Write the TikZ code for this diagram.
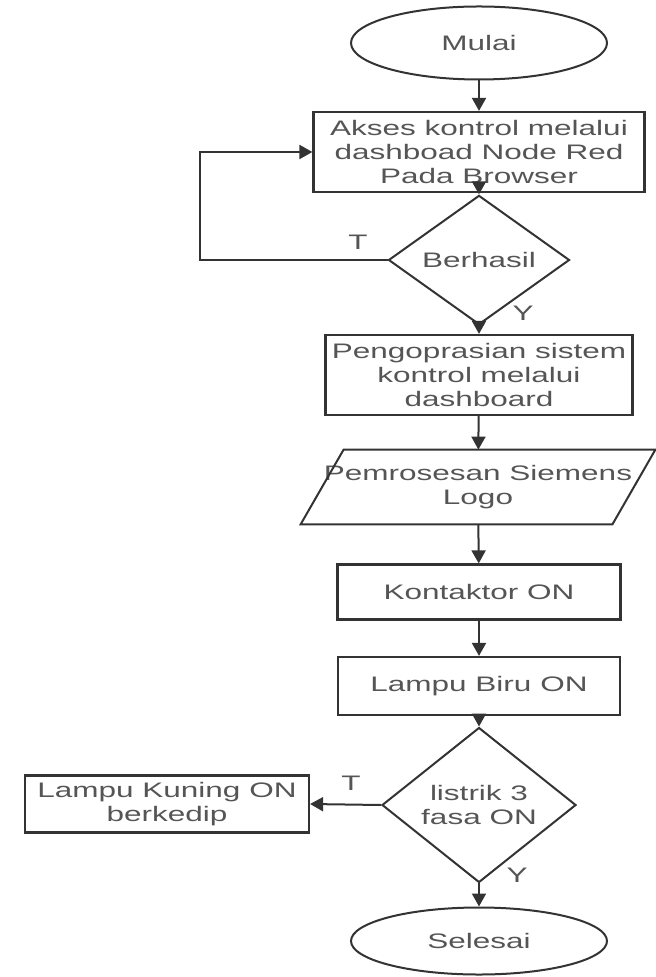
\documentclass[tikz,border=0pt]{standalone}
\usepackage{fontspec}
\setmainfont{Liberation Sans}[FakeStretch=1.5]
\usetikzlibrary{shapes.geometric,arrows.meta}
\definecolor{ink}{HTML}{333333}
\definecolor{txt}{HTML}{555555}
\begin{document}
\begin{tikzpicture}[x=0.5pt,y=-0.5pt,
  every node/.style={font=\fontsize{10.5pt}{12pt}\selectfont, text=txt, align=center},
  term/.style={draw=ink, line width=1pt, ellipse, inner sep=0pt},
  procbox/.style={draw=ink, line width=1.1pt, rectangle, inner sep=0pt},
  decide/.style={draw=ink, line width=1pt, diamond, inner sep=0pt},
  arr/.style={draw=ink, line width=1pt, -{Triangle[length=6.5pt,width=7pt]}},
  lbl/.style={inner sep=0pt}
]
\useasboundingbox (0,0) rectangle (656,977);

\node[term, minimum width=128pt, minimum height=36.5pt] (start) at (479,43) {Mulai};
\node[procbox, minimum width=165.5pt, minimum height=40pt] (akses) at (479,152)
  {Akses kontrol melalui\\dashboad Node Red\\Pada Browser};
\node[decide, minimum width=90.5pt, minimum height=45pt] (berhasil) at (479,260) {Berhasil};
\node[procbox, minimum width=153.5pt, minimum height=40pt] (operasi) at (479,375)
  {Pengoprasian sistem\\kontrol melalui\\dashboard};
\node[minimum width=155.5pt, minimum height=37pt, inner sep=0pt] (proses) at (478,487)
  {Pemrosesan Siemens\\Logo};
\draw[ink, line width=1pt]
  ([xshift=10.75pt]proses.north west) -- ([xshift=10.75pt]proses.north east)
  -- ([xshift=-10.75pt]proses.south east) -- ([xshift=-10.75pt]proses.south west) -- cycle;
\node[procbox, minimum width=141.5pt, minimum height=27.5pt] (kontaktor) at (479,592) {Kontaktor ON};
\node[procbox, minimum width=141pt, minimum height=29pt] (biru) at (479,686) {Lampu Biru ON};
\node[decide, minimum width=97pt, minimum height=56.5pt] (listrik) at (479,805) {listrik 3\\fasa ON};
\node[procbox, minimum width=142pt, minimum height=28.5pt] (kuning) at (167,804)
  {Lampu Kuning ON\\berkedip};
\node[term, minimum width=128pt, minimum height=33.5pt] (selesai) at (479,941) {Selesai};

\coordinate (loop) at (200,260);

\draw[arr] (start) -- (akses);
\draw[arr] (akses) -- (berhasil);
\draw[arr] (berhasil.west) -- (loop) |- (akses.west);
\draw[arr] (berhasil) -- (operasi);
\draw[arr] (operasi) -- (proses);
\draw[arr] (proses) -- (kontaktor);
\draw[arr] (kontaktor) -- (biru);
\draw[arr] (biru) -- (listrik);
\draw[arr] (listrik.west) -- (kuning.east);
\draw[arr] (listrik) -- (selesai);

\node[lbl] (t1) at (358,242) {T};
\node[lbl] (y1) at (523,313) {Y};
\node[lbl] (t2) at (351,783) {T};
\node[lbl] (y2) at (517,875) {Y};
\end{tikzpicture}
\end{document}
